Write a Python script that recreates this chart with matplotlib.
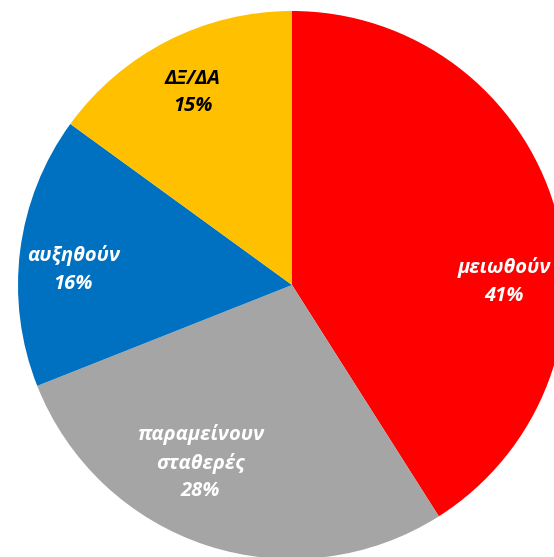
import numpy as np
import matplotlib
matplotlib.use('Agg')
import matplotlib.pyplot as plt

plt.rcParams['font.family'] = ['Open Sans', 'DejaVu Sans']

# data
labels = ['μειωθούν', 'παραμείνουν\nσταθερές', 'αυξηθούν', 'ΔΞ/ΔΑ']
values = [41, 28, 16, 15]
colors = ['#FF0000', '#A5A5A5', '#0070C0', '#FFC000']
text_colors = ['white', 'white', 'white', 'black']

# label centres as (radius, angle in degrees), like excel placed them
label_pos = [(0.775, 1.0), (0.73, -117.3), (0.80, 176.0), (0.79, 117.3)]

fig = plt.figure(figsize=(5.54, 5.57), dpi=100)
ax = fig.add_axes([0, 0, 1, 1])

ax.pie(values, colors=colors, startangle=90, counterclock=False,
       wedgeprops=dict(linewidth=0))

for lab, v, tc, (r, a) in zip(labels, values, text_colors, label_pos):
    x = r * np.cos(np.radians(a))
    y = r * np.sin(np.radians(a))
    ax.text(x, y, f'{lab}\n{v}%', ha='center', va='center', color=tc,
            fontsize=14.5, fontweight='bold', fontstyle='italic', linespacing=1.5)

# pie is cropped at the right and bottom edge of the picture
R = 274.0
ax.set_xlim(-292 / R, (554 - 292) / R)
ax.set_ylim(-(557 - 285) / R, 285 / R)
ax.set_aspect('equal')
ax.axis('off')

fig.savefig('out.png', dpi=100)
